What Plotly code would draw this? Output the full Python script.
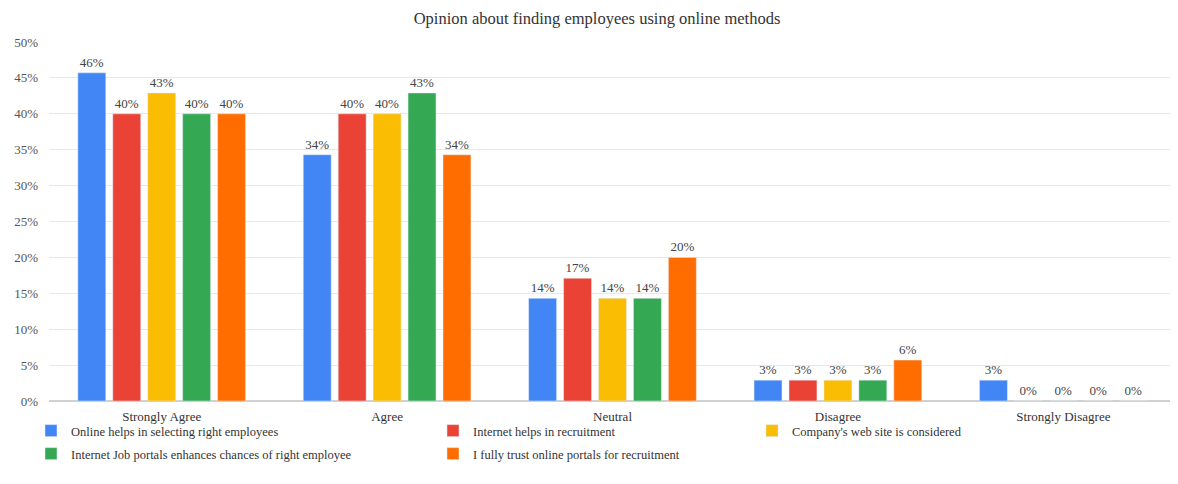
import plotly.graph_objects as go

categories = ["Strongly Agree", "Agree", "Neutral", "Disagree", "Strongly Disagree"]
series_names = [
    "Online helps in selecting right employees",
    "Internet helps in recruitment",
    "Company's web site is considered",
    "Internet Job portals enhances chances of right employee",
    "I fully trust online portals for recruitment",
]
# share of respondents (%)
online_selecting = [45.7, 34.3, 14.3, 2.9, 2.9]
internet_recruitment = [40.0, 40.0, 17.1, 2.9, 0.0]
company_website = [42.9, 40.0, 14.3, 2.9, 0.0]
job_portals = [40.0, 42.9, 14.3, 2.9, 0.0]
fully_trust = [40.0, 34.3, 20.0, 5.7, 0.0]
y_ticks = [0, 5, 10, 15, 20, 25, 30, 35, 40, 45, 50]

all_series = [online_selecting, internet_recruitment, company_website, job_portals, fully_trust]
colors = ["#4285F4", "#EA4335", "#FBBC04", "#34A853", "#FF6D01"]
legend_ids = ["legend", "legend2", "legend3", "legend4", "legend5"]
legend_pos = [(23, 423), (425, 423), (744, 423), (23, 446), (425, 446)]

FONT = "Liberation Serif, Times New Roman, serif"
W, H = 1178, 484

fig = go.Figure()
for name, vals, col, lg in zip(series_names, all_series, colors, legend_ids):
    fig.add_trace(go.Bar(
        x=categories, y=vals, name=name, marker_color=col,
        text=[f"{round(v)}%" for v in vals], textposition="outside",
        textfont=dict(family=FONT, size=13, color="#444"),
        cliponaxis=False, legend=lg, showlegend=True,
    ))

layout_legends = {}
for lg, (px, py) in zip(legend_ids, legend_pos):
    layout_legends[lg] = dict(
        x=px / W, y=1 - py / H, xref="container", yref="container",
        xanchor="left", yanchor="middle", orientation="h",
        font=dict(family=FONT, size=12.5, color="#333"),
        bgcolor="rgba(0,0,0,0)",
        tracegroupgap=0, itemwidth=30, visible=True,
    )

fig.update_layout(
    width=W, height=H, showlegend=True,
    paper_bgcolor="white", plot_bgcolor="white",
    title=dict(text="Opinion about finding employees using online methods",
               x=0.5, xanchor="center", y=1 - 4 / H, yanchor="top",
               font=dict(family=FONT, size=16.5, color="#333")),
    margin=dict(l=41, r=10, t=34, b=91, autoexpand=False),
    barmode="group", bargap=0.225, bargroupgap=0.2,
    xaxis=dict(tickfont=dict(family=FONT, size=13, color="#333"), showgrid=False,
               showline=False, ticks="", ticklabelstandoff=6),
    yaxis=dict(range=[0, 50], tickvals=y_ticks, ticktext=[f"{t}%" for t in y_ticks],
               tickfont=dict(family=FONT, size=13, color="#555"),
               gridcolor="#e8e8e8", zeroline=True, zerolinecolor="#d0d0d0",
               ticks="", showline=False, ticklabelstandoff=10),
    **layout_legends,
)

fig.write_html("out.html")
